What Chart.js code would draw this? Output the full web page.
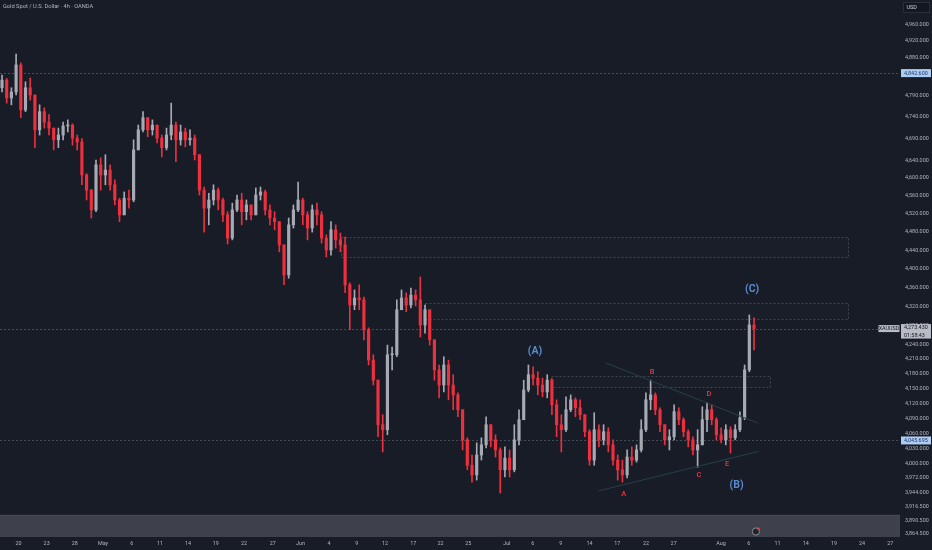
<!DOCTYPE html>
<html><head><meta charset="utf-8">
<script src="https://cdn.jsdelivr.net/npm/chart.js@4.4.1/dist/chart.umd.min.js"></script>
<style>html,body{margin:0;padding:0;background:#181c27;overflow:hidden}#wrap{width:932px;height:550px;position:relative}</style>
</head><body><div id="wrap"><canvas id="c" width="932" height="550"></canvas></div>
<script>
const firstOpen = 4808;
const closes = [4826,4784,4798,4862,4756,4808,4791,4710,4752,4728,
4714,4687,4698,4719,4721,4691,4682,4607,4573,4529,
4630,4607,4618,4585,4551,4518,4555,4551,4664,4710,
4738,4710,4721,4691,4669,4698,4721,4687,4705,4687,
4691,4653,4573,4533,4551,4573,4551,4518,4467,4529,
4551,4525,4540,4518,4562,4569,4529,4511,4503,4452,
4387,4496,4529,4551,4518,4489,4529,4518,4467,4441,
4485,4463,4452,4366,4323,4338,4334,4271,4208,4167,
4077,4067,4219,4219,4313,4338,4323,4344,4334,4281,
4313,4250,4188,4157,4198,4157,4137,4107,4047,3997,
3978,4017,4037,4077,4047,4027,3988,4011,3988,4047,
4087,4147,4178,4171,4157,4143,4167,4117,4077,4067,
4107,4127,4111,4097,4063,4007,4067,4047,4063,4037,
4007,3988,3978,4013,4007,4027,4067,4127,4137,4107,
4077,4047,4053,4103,4087,4063,4047,4027,4037,4087,
4107,4087,4057,4047,4067,4051,4067,4091,4188,4281,4273.43];
const highs = [4838,4830,4808,4888,4867,4822,4831,4791,4768,4761,
4745,4714,4714,4728,4733,4724,4698,4690,4610,4575,
4641,4646,4653,4630,4596,4555,4569,4573,4687,4721,
4752,4738,4733,4721,4698,4714,4772,4728,4721,4714,
4710,4698,4653,4580,4566,4585,4578,4555,4525,4544,
4562,4566,4551,4540,4578,4580,4573,4540,4525,4503,
4452,4511,4540,4591,4555,4525,4540,4544,4525,4474,
4503,4496,4478,4469,4370,4355,4366,4340,4275,4219,
4167,4097,4239,4235,4334,4355,4349,4359,4355,4383,
4323,4313,4250,4198,4215,4208,4178,4141,4107,4051,
4017,4041,4051,4093,4077,4057,4031,4033,4027,4077,
4107,4167,4198,4194,4184,4171,4178,4170,4127,4097,
4133,4137,4131,4127,4097,4067,4101,4077,4077,4071,
4047,4017,4007,4027,4033,4037,4087,4141,4167,4141,
4111,4077,4067,4117,4111,4091,4067,4053,4067,4113,
4121,4117,4091,4071,4077,4073,4077,4103,4198,4302,4296];
const lows = [4798,4772,4768,4791,4738,4752,4779,4669,4698,4714,
4698,4664,4669,4687,4705,4675,4664,4585,4551,4511,
4525,4573,4585,4573,4540,4503,4518,4533,4547,4664,
4705,4694,4698,4680,4648,4664,4687,4637,4675,4671,
4675,4641,4562,4480,4496,4540,4529,4503,4454,4463,
4525,4496,4507,4507,4518,4551,4518,4496,4485,4437,
4366,4380,4489,4525,4496,4463,4480,4496,4456,4426,
4430,4445,4437,4349,4271,4313,4313,4250,4198,4157,
4053,4023,4057,4188,4215,4313,4309,4317,4321,4256,
4264,4239,4167,4131,4143,4127,4107,4093,4027,3988,
3964,3968,4007,4031,4033,4013,3943,3974,3974,3984,
4037,4087,4143,4157,4137,4133,4131,4097,4053,4023,
4063,4103,4093,4087,4053,3997,3997,4033,4037,4023,
3997,3968,3964,3972,3997,4003,4023,4063,4107,4097,
4063,4037,4027,4047,4077,4053,4033,4017,3993,4037,
4063,4077,4047,4041,4037,4021,4047,4063,4087,4184,4229];
const opens = [firstOpen].concat(closes.slice(0, -1));

// x-axis tick positions (in candle index units) and labels
const xTickPos = [3.5,9.5,15.5,21.5,27.6,33.6,39.6,45.5,51.5,57.6,63.5,69.6,75.5,81.5,87.5,93.3,99.2,107.4,112.9,118.9,125,130.9,137,142.9,153,158.9,165,171,177,183,189];
const xTickText = ['20','23','28','May','6','11','14','19','22','27','Jun','4','9','12','17','22','25','Jul','6','9','14','17','22','27','Aug','6','11','14','19','24','27'];
// price axis ticks
const yTicks = [4960,4920,4880,4840,4790,4740,4690,4640,4600,4560,4520,4480,4440,4400,4360,4320,4280,4240,4210,4180,4150,4120,4090,4060,4030,4000,3972,3944,3916.5,3890.5,3864.5];

// drawings: boxes [startIdx, endIdx, topPrice, bottomPrice]
const boxes = [[72.1,180,4469,4425],[90,180,4328,4293],[116.8,163.4,4175,4153]];
const hLines = [4842.6, 4273.43, 4045.695];
const trendLines = [[128.5,4202,160.9,4080],[126.9,3947,160.9,4024]];
const waveLabels = [['(A)',113.4,4227],['(C)',159.6,4356],['(B)',156.3,3957]];
const subLabels = [['A',132.3,3941],['B',138.3,4184],['C',148.3,3977],['D',150.4,4139],['E',154.3,4000]];
const bandTop = 3901;
const lastPrice = 4273.43;

const BG = '#181c27', UP = '#a7aab3', DOWN = '#ee2f3d', TXT = '#b2b5be';
const FONT = 'Roboto, "Noto Sans", sans-serif';
const fmt = v => Number(v).toLocaleString('en-US',{minimumFractionDigits:3, maximumFractionDigits:3});

const colors = closes.map((c,i)=> c >= opens[i] ? UP : DOWN);
const bodyData = closes.map((c,i)=>({x:i, y:[opens[i], c]}));
const wickData = closes.map((c,i)=>({x:i, y:[lows[i], highs[i]]}));

function tag(ctx, x, y, w, h, bg, fg, lines, align) {
  ctx.fillStyle = bg;
  ctx.fillRect(x, y, w, h);
  ctx.fillStyle = fg;
  ctx.textBaseline = 'middle';
  ctx.textAlign = align || 'left';
  const lh = h / lines.length;
  lines.forEach((t, k) => ctx.fillText(t, align === 'center' ? x + w/2 : x + 3, y + lh*(k+0.5) + 0.3));
}

const overlay = {
  id: 'overlay',
  beforeDraw(chart) {
    const ctx = chart.ctx;
    ctx.save(); ctx.fillStyle = BG; ctx.fillRect(0, 0, chart.width, chart.height); ctx.restore();
  },
  beforeDatasetsDraw(chart) {
    const {ctx, chartArea: a, scales: {x, y}} = chart;
    ctx.save();
    // bottom band
    ctx.fillStyle = '#3e414b';
    const bt = y.getPixelForValue(bandTop);
    ctx.fillRect(a.left, bt, a.right - a.left, a.bottom - bt);
    ctx.fillStyle = '#4a4d57';
    ctx.fillRect(a.left, bt, a.right - a.left, 1);
    // boxes
    ctx.setLineDash([2, 2]);
    ctx.lineWidth = 1;
    boxes.forEach(b => {
      const x0 = Math.round(x.getPixelForValue(b[0])) + 0.5, x1 = Math.round(x.getPixelForValue(b[1])) + 0.5;
      const y0 = Math.round(y.getPixelForValue(b[2])) + 0.5, y1 = Math.round(y.getPixelForValue(b[3])) + 0.5;
      ctx.fillStyle = 'rgba(255,255,255,0.012)';
      ctx.fillRect(x0, y0, x1 - x0, y1 - y0);
      ctx.strokeStyle = '#434753';
      ctx.strokeRect(x0, y0, x1 - x0, y1 - y0);
    });
    // horizontal dashed lines
    ctx.strokeStyle = '#464b58';
    hLines.forEach(p => {
      const py = Math.round(y.getPixelForValue(p)) + 0.5;
      ctx.beginPath(); ctx.moveTo(a.left, py); ctx.lineTo(a.right, py); ctx.stroke();
    });
    ctx.restore();
  },
  afterDatasetsDraw(chart) {
    const {ctx, scales: {x, y}} = chart;
    ctx.save();
    ctx.strokeStyle = '#263f4a';
    ctx.lineWidth = 1;
    trendLines.forEach(t => {
      ctx.beginPath();
      ctx.moveTo(x.getPixelForValue(t[0]), y.getPixelForValue(t[1]));
      ctx.lineTo(x.getPixelForValue(t[2]), y.getPixelForValue(t[3]));
      ctx.stroke();
    });
    ctx.textAlign = 'center'; ctx.textBaseline = 'middle';
    ctx.fillStyle = '#5a8bd0';
    ctx.font = 'bold 10.5px ' + FONT;
    waveLabels.forEach(l => ctx.fillText(l[0], x.getPixelForValue(l[1]), y.getPixelForValue(l[2])));
    ctx.fillStyle = '#f2343f';
    ctx.font = '500 7.5px ' + FONT;
    subLabels.forEach(l => ctx.fillText(l[0], x.getPixelForValue(l[1]), y.getPixelForValue(l[2])));
    ctx.restore();
  },
  afterDraw(chart) {
    const {ctx, chartArea: a, scales: {x, y}} = chart;
    ctx.save();
    ctx.font = '5.7px ' + FONT;
    // title
    ctx.fillStyle = TXT; ctx.textAlign = 'left'; ctx.textBaseline = 'middle';
    ctx.fillText('Gold Spot / U.S. Dollar · 4h · OANDA', 3, 7);
    ctx.font = '5.4px ' + FONT;
    // USD box
    ctx.fillStyle = '#131722'; ctx.fillRect(903, 2, 27, 11);
    ctx.strokeStyle = '#2a2e39'; ctx.lineWidth = 1; ctx.strokeRect(903.5, 2.5, 26, 10);
    ctx.fillStyle = '#d1d4dc'; ctx.fillText('USD', 906.5, 7.8);
    // price tags
    const tagX = a.right + 1, tagW = chart.width - a.right - 2;
    [hLines[0], hLines[2]].forEach(p => {
      const py = y.getPixelForValue(p);
      tag(ctx, tagX, py - 4, tagW, 8, '#aecbf3', '#1b3a6b', [fmt(p)]);
    });
    const lp = y.getPixelForValue(lastPrice);
    tag(ctx, tagX, lp - 4.5, tagW, 14.5, '#b9bcc4', '#131722', [fmt(lastPrice), '01:58:43']);
    tag(ctx, a.right - 21.5, lp - 3.5, 21, 7, '#b9bcc4', '#131722', ['XAUUSD'], 'center');
    // small event icon
    const ix = x.getPixelForValue(160.4), iy = a.bottom - 5.5;
    ctx.beginPath(); ctx.arc(ix, iy, 3.6, 0, Math.PI*2);
    ctx.fillStyle = '#20232c'; ctx.fill(); ctx.strokeStyle = '#8a8d96'; ctx.stroke();
    ctx.beginPath(); ctx.arc(ix + 2.6, iy - 2.6, 1.4, 0, Math.PI*2); ctx.fillStyle = '#f23645'; ctx.fill();
    ctx.restore();
  }
};

new Chart(document.getElementById('c'), {
  type: 'bar',
  data: {
    datasets: [
      {data: bodyData, backgroundColor: colors, barThickness: 2.5, minBarLength: 1, grouped: false, order: 1, borderWidth: 0},
      {data: wickData, backgroundColor: colors, barThickness: 1, grouped: false, order: 2, borderWidth: 0}
    ]
  },
  options: {
    responsive: false, animation: false,
    layout: {padding: 0},
    plugins: {legend: {display: false}, tooltip: {enabled: false}, title: {display: false}},
    scales: {
      x: {
        type: 'linear', position: 'bottom', min: -0.4255, max: 191.06, bounds: 'data', offset: false,
        grid: {display: false, drawTicks: false}, border: {display: false},
        afterBuildTicks: s => { s.ticks = xTickPos.map(v => ({value: v})); },
        afterFit: s => { s.height = 13; s.paddingLeft = 0; s.paddingRight = 0; },
        ticks: {autoSkip: false, maxRotation: 0, padding: 3, color: TXT, font: {size: 5.4, family: FONT},
          callback: (v, i) => xTickText[i]}
      },
      y: {
        type: 'logarithmic', position: 'right', min: 3859, max: 5019, bounds: 'data',
        grid: {display: false, drawTicks: false}, border: {display: false},
        afterBuildTicks: s => { s.ticks = yTicks.map(v => ({value: v})); },
        afterFit: s => { s.width = 32; s.paddingTop = 0; s.paddingBottom = 0; },
        ticks: {autoSkip: false, padding: 5, color: TXT, font: {size: 5.4, family: FONT},
          callback: v => fmt(v)}
      }
    }
  },
  plugins: [overlay]
});
</script></body></html>
